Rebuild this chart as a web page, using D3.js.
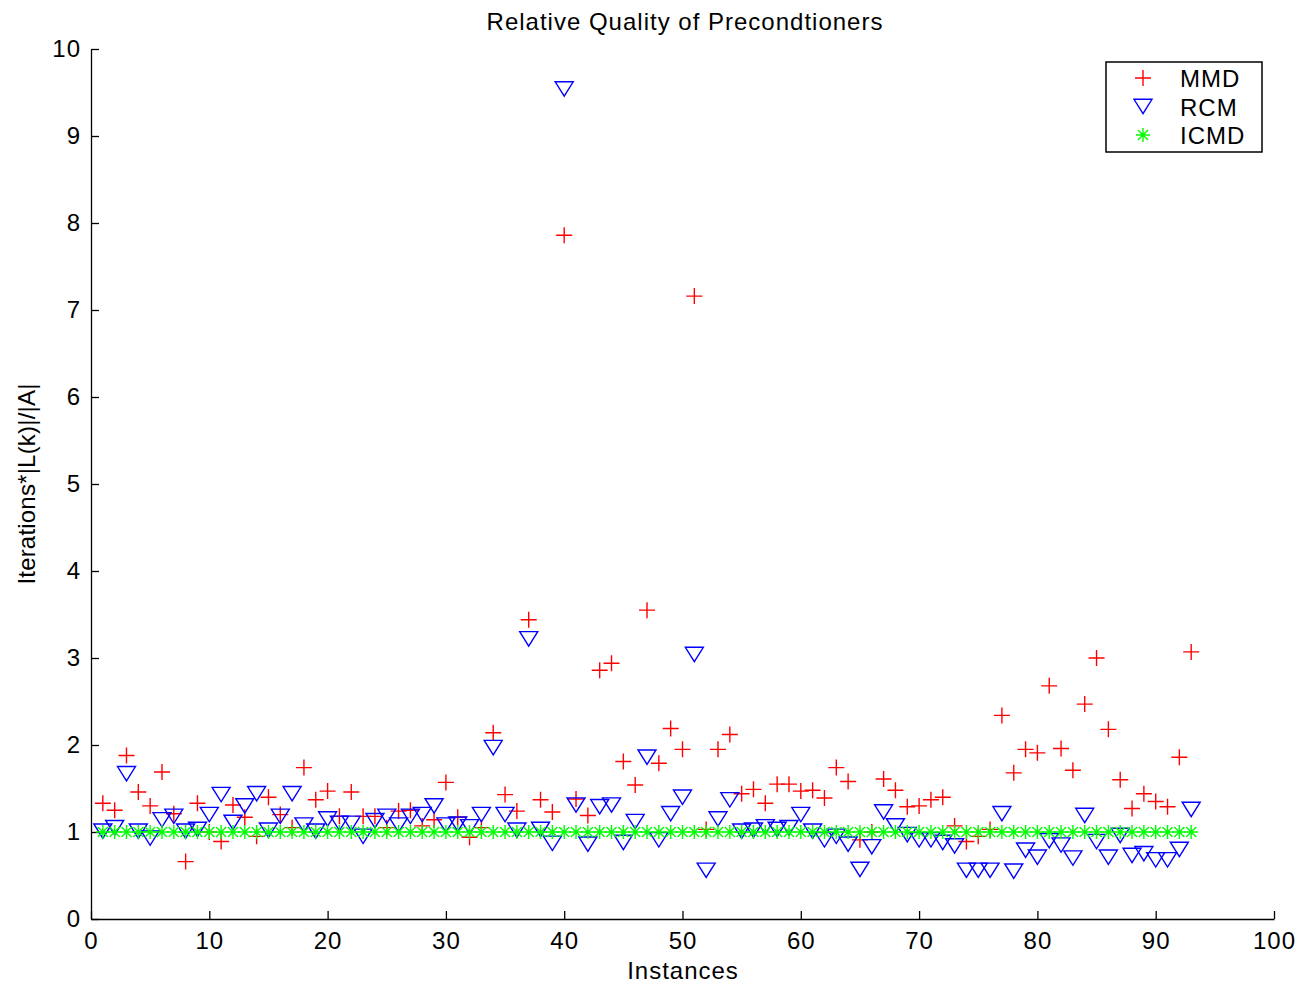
<!DOCTYPE html>
<html>
<head>
<meta charset="utf-8">
<script src="https://cdn.jsdelivr.net/npm/d3@7"></script>
<style>
body { margin: 0; background: #fff; }
text { font-family: "Liberation Sans", Arial, sans-serif; }
</style>
</head>
<body>
<svg></svg>
<script>
// values, instances 1..93
var mmd = [1.33,1.25,1.88,1.46,1.30,1.69,1.21,0.66,1.33,1.00,
           0.89,1.31,1.17,0.95,1.40,1.20,1.05,1.74,1.37,1.47,
           1.18,1.46,1.18,1.18,1.05,1.24,1.25,1.07,1.14,1.57,
           1.17,0.94,1.05,2.14,1.43,1.24,3.44,1.37,1.23,7.86,
           1.38,1.19,2.86,2.94,1.81,1.54,3.55,1.79,2.19,1.95,
           7.16,1.03,1.95,2.12,1.44,1.49,1.33,1.55,1.55,1.47,
           1.48,1.39,1.74,1.58,0.91,1.00,1.61,1.48,1.29,1.30,
           1.37,1.40,1.07,0.89,0.95,1.03,2.34,1.68,1.95,1.91,
           2.68,1.96,1.71,2.47,3.00,2.18,1.60,1.27,1.44,1.35,
           1.29,1.86,3.07];
var rcm = [1.01,1.05,1.67,1.01,0.93,1.14,1.18,1.01,1.03,1.20,
           1.43,1.11,1.30,1.44,1.02,1.18,1.44,1.08,1.01,1.15,
           1.10,1.10,0.95,1.13,1.18,1.08,1.18,1.20,1.30,1.08,
           1.09,1.06,1.20,1.97,1.20,1.02,3.22,1.03,0.87,9.54,
           1.31,0.86,1.29,1.31,0.88,1.12,1.86,0.91,1.21,1.40,
           3.04,0.56,1.15,1.37,1.01,1.02,1.06,1.03,1.05,1.20,
           1.01,0.91,0.95,0.86,0.57,0.83,1.23,1.07,0.97,0.91,
           0.91,0.88,0.84,0.56,0.56,0.56,1.21,0.55,0.79,0.71,
           0.90,0.85,0.70,1.19,0.89,0.71,0.96,0.73,0.75,0.68,
           0.68,0.80,1.26];
var icmd = mmd.map(function(){ return 1; });
var seriesNames = ["MMD", "RCM", "ICMD"];
var seriesColors = ["#ff0000", "#0000ff", "#00ff00"];
var xTicks = [0,10,20,30,40,50,60,70,80,90,100];
var yTicks = [0,1,2,3,4,5,6,7,8,9,10];

var width = 1302, height = 986;
var pLeft = 91, pRight = 1274, pTop = 49, pBottom = 919;
var fs = 24, ls = "1px";
var svg = d3.select("svg").attr("width", width).attr("height", height);

var x = d3.scaleLinear().domain([0, 100]).range([pLeft, pRight]);
var y = d3.scaleLinear().domain([0, 10]).range([pBottom, pTop]);

// axes, ticks pointing inward
var xAxis = svg.append("g").attr("transform", "translate(0," + pBottom + ")")
	.call(d3.axisBottom(x).tickValues(xTicks).tickSizeInner(-8).tickSizeOuter(0).tickPadding(13));
var yAxis = svg.append("g").attr("transform", "translate(" + pLeft + ",0)")
	.call(d3.axisLeft(y).tickValues(yTicks).tickSizeInner(-8).tickSizeOuter(0).tickPadding(10));
[xAxis, yAxis].forEach(function(a){
	a.selectAll("path,line").attr("stroke", "#000").attr("stroke-width", 1.3);
	a.selectAll("text").attr("fill", "#000").attr("font-size", fs)
		.style("letter-spacing", ls)
		.style("font-family", "Liberation Sans, Arial, sans-serif");
});
xAxis.selectAll("text").attr("dy", "0.72em");

svg.append("text").attr("x", 685).attr("y", 30).attr("text-anchor", "middle")
	.attr("font-size", fs).style("letter-spacing", ls).text("Relative Quality of Precondtioners");
svg.append("text").attr("x", 683).attr("y", 979).attr("text-anchor", "middle")
	.attr("font-size", fs).style("letter-spacing", ls).text("Instances");
svg.append("text").attr("transform", "translate(35,484) rotate(-90)").attr("text-anchor", "middle")
	.attr("font-size", fs).style("letter-spacing", "0.2px").text("Iterations*|L(k)|/|A|");

// marker shapes
function plus(g, s){
	g.append("path").attr("d", "M" + (-s) + ",0H" + s + "M0," + (-s) + "V" + s)
		.attr("stroke", seriesColors[0]).attr("stroke-width", 1.4).attr("fill", "none");
}
function tri(g, s){
	g.append("path").attr("d", "M" + (-s) + "," + (-s*0.8) + "H" + s + "L0," + (s*0.8) + "Z")
		.attr("stroke", seriesColors[1]).attr("stroke-width", 1.4).attr("fill", "none");
}
function star(g, s){
	var d = "M" + (-s) + ",0H" + s + "M0," + (-s) + "V" + s;
	var k = s * 0.72;
	d += "M" + (-k) + "," + (-k) + "L" + k + "," + k + "M" + (-k) + "," + k + "L" + k + "," + (-k);
	g.append("path").attr("d", d)
		.attr("stroke", seriesColors[2]).attr("stroke-width", 1.4).attr("fill", "none");
}
var drawers = [plus, tri, star];
var sizes = [8, 9, 7];
var allData = [mmd, rcm, icmd];

allData.forEach(function(vals, k){
	svg.append("g").selectAll("g").data(vals).enter().append("g")
		.attr("transform", function(v, i){ return "translate(" + x(i + 1) + "," + y(v) + ")"; })
		.each(function(){ drawers[k](d3.select(this), sizes[k]); });
});

// legend
var lg = svg.append("g");
lg.append("rect").attr("x", 1106).attr("y", 62).attr("width", 156).attr("height", 90)
	.attr("fill", "#fff").attr("stroke", "#000").attr("stroke-width", 1.5);
seriesNames.forEach(function(name, k){
	var yy = 78 + k * 28.5;
	var g = lg.append("g").attr("transform", "translate(1143," + yy + ")");
	drawers[k](g, sizes[k]);
	lg.append("text").attr("x", 1180).attr("y", yy + 9).attr("font-size", fs)
		.style("letter-spacing", ls).text(name);
});
</script>
</body>
</html>
